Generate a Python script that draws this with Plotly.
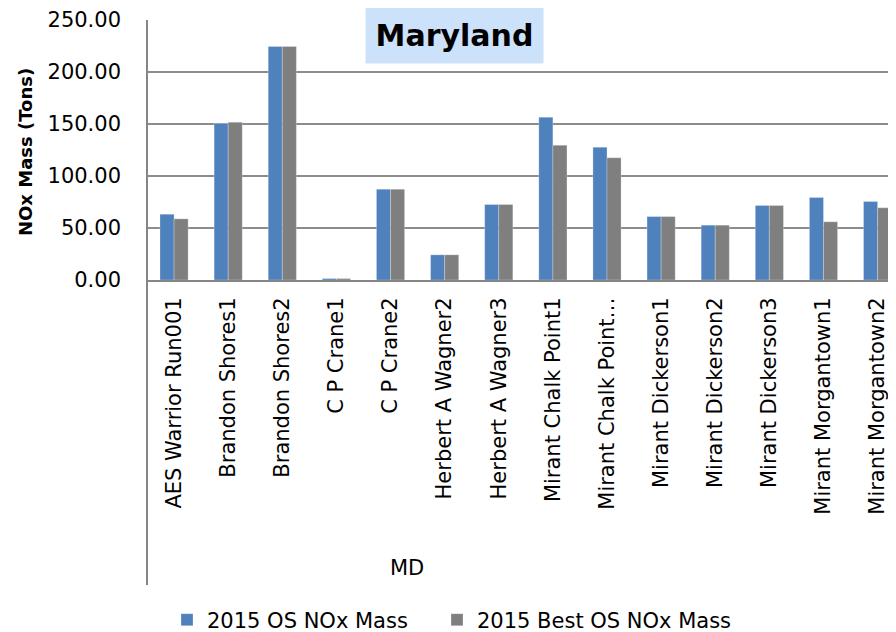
import plotly.graph_objects as go

categories = ["AES Warrior Run001", "Brandon Shores1", "Brandon Shores2", "C P Crane1",
              "C P Crane2", "Herbert A Wagner2", "Herbert A Wagner3", "Mirant Chalk Point1",
              "Mirant Chalk Point\u2026", "Mirant Dickerson1", "Mirant Dickerson2",
              "Mirant Dickerson3", "Mirant Morgantown1", "Mirant Morgantown2"]
os_nox = [63.3, 150.5, 224.5, 1.4, 87.3, 24.2, 72.6, 156.5, 127.7, 61.0, 52.7, 71.6, 79.3, 75.5]
best_os_nox = [58.8, 151.7, 224.5, 1.4, 87.3, 24.2, 72.6, 129.6, 117.5, 61.0, 52.7, 71.6, 56.0, 69.4]
y_ticks = [0, 50, 100, 150, 200, 250]

FONT = "DejaVu Sans"
OFF = 8  # page body margin
W, H = 896 - OFF, 632 - OFF
L, T, B = 147 - OFF, 20 - OFF, 352
plot_w = W - L
plot_h = H - T - B

fig = go.Figure()
fig.add_trace(go.Bar(x=categories, y=os_nox, name="2015 OS NOx Mass", legend="legend",
                     marker=dict(color="#4F81BD", line=dict(color="rgba(255,255,255,0.5)", width=0.5))))
fig.add_trace(go.Bar(x=categories, y=best_os_nox, name="2015 Best OS NOx Mass", legend="legend2",
                     marker=dict(color="#7F7F7F", line=dict(color="rgba(255,255,255,0.5)", width=0.5))))

leg_common = dict(orientation="h", xref="container", yref="container", xanchor="left",
                  y=1 - (620 - OFF) / H, yanchor="middle", font=dict(size=21, family=FONT),
                  itemwidth=30, borderwidth=0, bgcolor="rgba(0,0,0,0)")

fig.update_layout(
    width=W, height=H,
    margin=dict(l=L, r=0, t=T, b=B, autoexpand=False),
    paper_bgcolor="white", plot_bgcolor="white",
    font=dict(family=FONT, color="black", size=21),
    barmode="group", bargap=0.48, bargroupgap=0,
    showlegend=True,
    legend=dict(x=(167 - OFF) / W, **leg_common),
    legend2=dict(x=(437 - OFF) / W, **leg_common),
)
fig.update_xaxes(
    type="category", range=[-0.5, 13.34], tickangle=-90,
    tickfont=dict(size=21, family=FONT), showline=True, linecolor="#868686", linewidth=2,
    ticks="", ticklabelstandoff=7, showgrid=False,
)
fig.update_yaxes(
    range=[0, 250], tickvals=y_ticks, tickformat=".2f",
    tickfont=dict(size=21, family=FONT), showgrid=True, gridcolor="#8C8C8C", gridwidth=1.5,
    showline=False, zeroline=False, ticks="", ticklabelstandoff=25,
)

# vertical axis line extending through the category label area
fig.add_shape(type="line", xref="paper", yref="paper", x0=0, x1=0, y0=1,
              y1=(280 - 585) / plot_h, line=dict(color="#868686", width=2))

# y axis title
fig.add_annotation(text="<b>NOx Mass (Tons)</b>", textangle=-90, xref="paper", yref="paper",
                   x=(25 - 147) / plot_w, y=(280 - 152) / plot_h, showarrow=False,
                   font=dict(size=18, family=FONT), xanchor="center", yanchor="middle")
# group label
fig.add_annotation(text="MD", xref="paper", yref="paper",
                   x=(407 - 147) / plot_w, y=(280 - 568) / plot_h, showarrow=False,
                   font=dict(size=21, family=FONT), xanchor="center", yanchor="middle")
# title box
fig.add_annotation(text="<b>Maryland</b>", xref="paper", yref="paper",
                   x=(454.5 - 147) / plot_w, y=(280 - 35) / plot_h, showarrow=False,
                   font=dict(size=30, family=FONT), bgcolor="#CCE1FA",
                   width=175, height=54, borderpad=1, xanchor="center", yanchor="middle")

fig.write_html("out.html")
